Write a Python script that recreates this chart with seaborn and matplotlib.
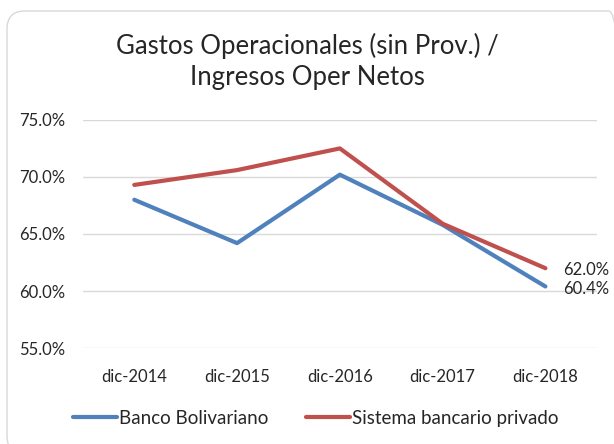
import pandas as pd
import seaborn as sns
import matplotlib.pyplot as plt
from matplotlib.patches import FancyBboxPatch
from matplotlib.transforms import IdentityTransform

periodos = ["dic-2014", "dic-2015", "dic-2016", "dic-2017", "dic-2018"]
banco_bolivariano = [68.0, 64.2, 70.2, 65.8, 60.4]
sistema_privado = [69.3, 70.6, 72.5, 65.9, 62.0]
series = ["Banco Bolivariano", "Sistema bancario privado"]
colores = ["#4F81BD", "#C0504D"]

df = pd.DataFrame({
    "periodo": periodos * 2,
    "valor": banco_bolivariano + sistema_privado,
    "serie": [series[0]] * 5 + [series[1]] * 5,
})

sns.set_style("white")
plt.rcParams["font.family"] = ["Lato", "DejaVu Sans"]

fig = plt.figure(figsize=(6.14, 4.44), dpi=100)
ax = fig.add_axes([0.135, 0.216, 0.837, 0.514])

sns.lineplot(data=df, x="periodo", y="valor", hue="serie", palette=colores,
             linewidth=3, sort=False, legend=False, ax=ax)

ax.set_xlim(-0.5, 4.5)
ax.set_ylim(55, 75)
ax.set_yticks([55, 60, 65, 70, 75])
ax.set_yticklabels([f"{v:.1f}%" for v in [55, 60, 65, 70, 75]])
ax.grid(axis="y", color="#D9D9D9", linewidth=1)
ax.grid(axis="x", visible=False)
for s in ax.spines.values():
    s.set_visible(False)
ax.tick_params(axis="y", length=0, labelsize=12, colors="#262626", pad=13)
ax.tick_params(axis="x", length=0, labelsize=12, colors="#262626", pad=15)
ax.set_xlabel("")
ax.set_ylabel("")

# etiquetas del ultimo punto
ax.annotate(f"{sistema_privado[-1]:.1f}%", (4, sistema_privado[-1]), xytext=(13, -1.5),
            textcoords="offset points", ha="left", va="center", fontsize=12, color="#262626")
ax.annotate(f"{banco_bolivariano[-1]:.1f}%", (4, banco_bolivariano[-1]), xytext=(13, -1.5),
            textcoords="offset points", ha="left", va="center", fontsize=12, color="#262626")

fig.text(0.5, 0.861, "Gastos Operacionales (sin Prov.) /\nIngresos Oper Netos",
         ha="center", va="center", fontsize=18.5, color="#262626", linespacing=1.32)

handles = [plt.Line2D([], [], color=c, linewidth=3) for c in colores]
fig.legend(handles, series, loc="center", bbox_to_anchor=(0.514, 0.058), ncol=2,
           frameon=False, fontsize=13.5, handlelength=2.35, columnspacing=2.0, handletextpad=0.1)

fig.patches.append(FancyBboxPatch((7, -10), 620, 443, boxstyle="round,pad=0,rounding_size=18",
                                  transform=IdentityTransform(), fill=False,
                                  edgecolor="#D9D9D9", linewidth=1))

fig.savefig("out.png", dpi=100)
